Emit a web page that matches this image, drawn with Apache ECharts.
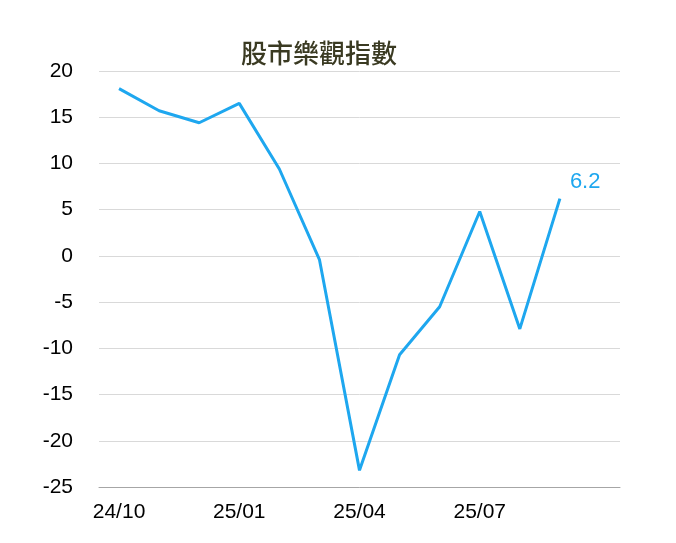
<!DOCTYPE html>
<html>
<head>
<meta charset="utf-8">
<script src="https://cdn.jsdelivr.net/npm/echarts@6/dist/echarts.min.js"></script>
<style>
html,body{margin:0;padding:0;background:#fff;}
#c{width:676px;height:543px;}
</style>
</head>
<body>
<div id="c"></div>
<script>
var title = '股市樂觀指數';
var categories = ['24/10','24/11','24/12','25/01','25/02','25/03','25/04','25/05','25/06','25/07','25/08','25/09',''];
var values = [18.1, 15.7, 14.4, 16.5, 9.4, -0.4, -23.2, -10.7, -5.5, 4.8, -7.9, 6.2];
var yMin = -25, yMax = 20, yStep = 5;

var chart = echarts.init(document.getElementById('c'));
var lastIdx = values.length - 1;
var latin = '"Liberation Sans", Arial, sans-serif';
chart.setOption({
  animation: false,
  backgroundColor: '#ffffff',
  title: {
    text: title,
    left: 314, top: 33, textAlign: 'center',
    textStyle: {fontFamily: '"Noto Sans CJK TC", sans-serif', fontSize: 26, fontWeight: 500, color: '#3a3a22', lineHeight: 30}
  },
  grid: {left: 99, right: 56, top: 71, bottom: 56},
  xAxis: {
    type: 'category',
    data: categories,
    boundaryGap: true,
    axisLine: {onZero: false, lineStyle: {color: '#a6a6a6', width: 1}},
    axisTick: {show: false},
    axisLabel: {interval: 2, color: '#000', fontFamily: latin, fontSize: 21, margin: 15}
  },
  yAxis: {
    type: 'value',
    min: yMin, max: yMax, interval: yStep,
    axisLine: {show: false},
    axisTick: {show: false},
    splitLine: {lineStyle: {color: '#d9d9d9', width: 1}},
    axisLabel: {color: '#000', fontFamily: latin, fontSize: 21, margin: 26}
  },
  series: [{
    type: 'line',
    data: values,
    symbol: 'none',
    lineStyle: {color: '#1ea7ef', width: 3},
    markPoint: {
      symbol: 'circle', symbolSize: 0,
      label: {show: true, position: 'right', distance: 5, offset: [5, -17], color: '#1ea7ef', fontSize: 22, fontFamily: latin, formatter: function(){return String(values[lastIdx]);}},
      data: [{coord: [lastIdx, values[lastIdx]]}]
    }
  }]
});
</script>
</body>
</html>
